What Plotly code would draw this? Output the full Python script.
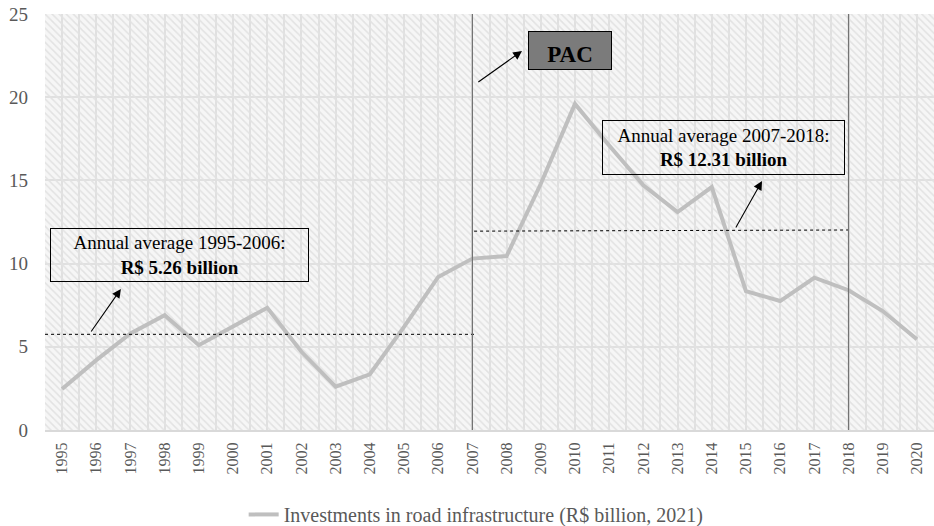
import plotly.graph_objects as go

years = list(range(1995, 2021))
investments = [2.46, 4.2, 5.8, 6.9, 5.1, 6.25, 7.35, 4.7, 2.6, 3.35, 6.2, 9.2,
               10.3, 10.45, 14.8, 19.6, 17.1, 14.7, 13.1, 14.6, 8.35, 7.75, 9.15,
               8.4, 7.15, 5.45]
avg1_x = [1994.5, 2007.05]
avg1_y = [5.75, 5.75]
avg2_x = [2007.05, 2018.0]
avg2_y = [11.95, 12.02]
y_ticks = [0, 5, 10, 15, 20, 25]

FONT = "Liberation Serif"
GRAY = "#595959"

fig = go.Figure()

# hatched background (transparent between stripes so gridlines show)
fig.add_trace(go.Bar(
    x=years, y=[25] * len(years), width=1.0,
    marker=dict(color="rgba(0,0,0,0)", line=dict(width=0),
                pattern=dict(shape="\\", fgcolor="#e2e2e2", bgcolor="rgba(0,0,0,0)",
                             fillmode="replace", size=5, solidity=0.3)),
    hoverinfo="skip", showlegend=False))

fig.add_trace(go.Scatter(
    x=years, y=investments, mode="lines",
    line=dict(color="#bfbfbf", width=4),
    name="Investments in road infrastructure (R$ billion, 2021)"))

fig.add_trace(go.Scatter(x=avg1_x, y=avg1_y, mode="lines",
                         line=dict(color="black", width=1, dash="dot"),
                         showlegend=False, hoverinfo="skip"))
fig.add_trace(go.Scatter(x=avg2_x, y=avg2_y, mode="lines",
                         line=dict(color="black", width=1, dash="dot"),
                         showlegend=False, hoverinfo="skip"))

# vertical period lines
fig.add_shape(type="line", x0=2007, x1=2007, y0=0, y1=25, xref="x", yref="y",
              line=dict(color="#737373", width=1.2), layer="above")
fig.add_shape(type="line", x0=2018, x1=2018, y0=-0.4, y1=25, xref="x", yref="y",
              line=dict(color="#737373", width=1.2), layer="above")

# text boxes
fig.add_annotation(x=1998.43, y=10.52, xref="x", yref="y",
                   text="Annual average 1995-2006:<br><b>R$ 5.26 billion</b>",
                   showarrow=False, font=dict(family=FONT, size=19, color="black"),
                   bordercolor="black", borderwidth=1, width=253, height=48,
                   borderpad=2, align="center")
fig.add_annotation(x=2014.34, y=16.98, xref="x", yref="y",
                   text="Annual average 2007-2018:<br><b>R$ 12.31 billion</b>",
                   showarrow=False, font=dict(family=FONT, size=19, color="black"),
                   bordercolor="black", borderwidth=1, width=237, height=49,
                   borderpad=2, align="center")
fig.add_annotation(x=2009.85, y=22.8, xref="x", yref="y",
                   text="<b>PAC</b>", showarrow=False,
                   font=dict(family=FONT, size=23, color="black"),
                   bordercolor="black", borderwidth=1, bgcolor="#7b7b7b",
                   width=78, height=33, borderpad=2, valign="bottom")

# arrows
for (tx, ty, hx, hy) in [(1995.82, 5.83, 1996.72, 8.47),
                         (2007.13, 20.85, 2008.45, 22.78),
                         (2014.68, 12.08, 2015.47, 14.96)]:
    fig.add_annotation(x=hx, y=hy, ax=tx, ay=ty, xref="x", yref="y",
                       axref="x", ayref="y", text="", showarrow=True,
                       arrowhead=2, arrowsize=1.6, arrowwidth=1.1,
                       arrowcolor="black")

fig.update_layout(
    width=934, height=526,
    margin=dict(l=45, r=0, t=14, b=96),
    paper_bgcolor="white", plot_bgcolor="#f6f6f6",
    font=dict(family=FONT, size=15, color=GRAY),
    bargap=0,
    showlegend=True,
    legend=dict(orientation="h", x=0.485, xanchor="center",
                y=0.022, yanchor="middle", yref="container",
                font=dict(family=FONT, size=20, color=GRAY)),
)
fig.update_xaxes(
    range=[1994.5, 2020.5], tickvals=years, ticktext=[str(y) for y in years],
    tickangle=-90, tickfont=dict(family=FONT, size=16, color=GRAY),
    showgrid=True, gridcolor="#e0e0e0", gridwidth=1.5,
    minor=dict(dtick=1, tick0=0.5, showgrid=True, gridcolor="#e0e0e0", gridwidth=1.5),
    showline=True, linecolor="#d9d9d9", linewidth=2, zeroline=False, ticks="",
    automargin=False, ticklabelstandoff=4,
)
fig.update_yaxes(
    range=[0, 25], tickvals=y_ticks, showgrid=True, gridcolor="#e0e0e0",
    gridwidth=1.5, zeroline=False, tickfont=dict(family=FONT, size=19, color=GRAY),
    ticks="", ticklabelstandoff=16, automargin=False,
)

fig.write_html("out.html", config={"displayModeBar": False},
               post_script="document.body.style.margin='0';")
